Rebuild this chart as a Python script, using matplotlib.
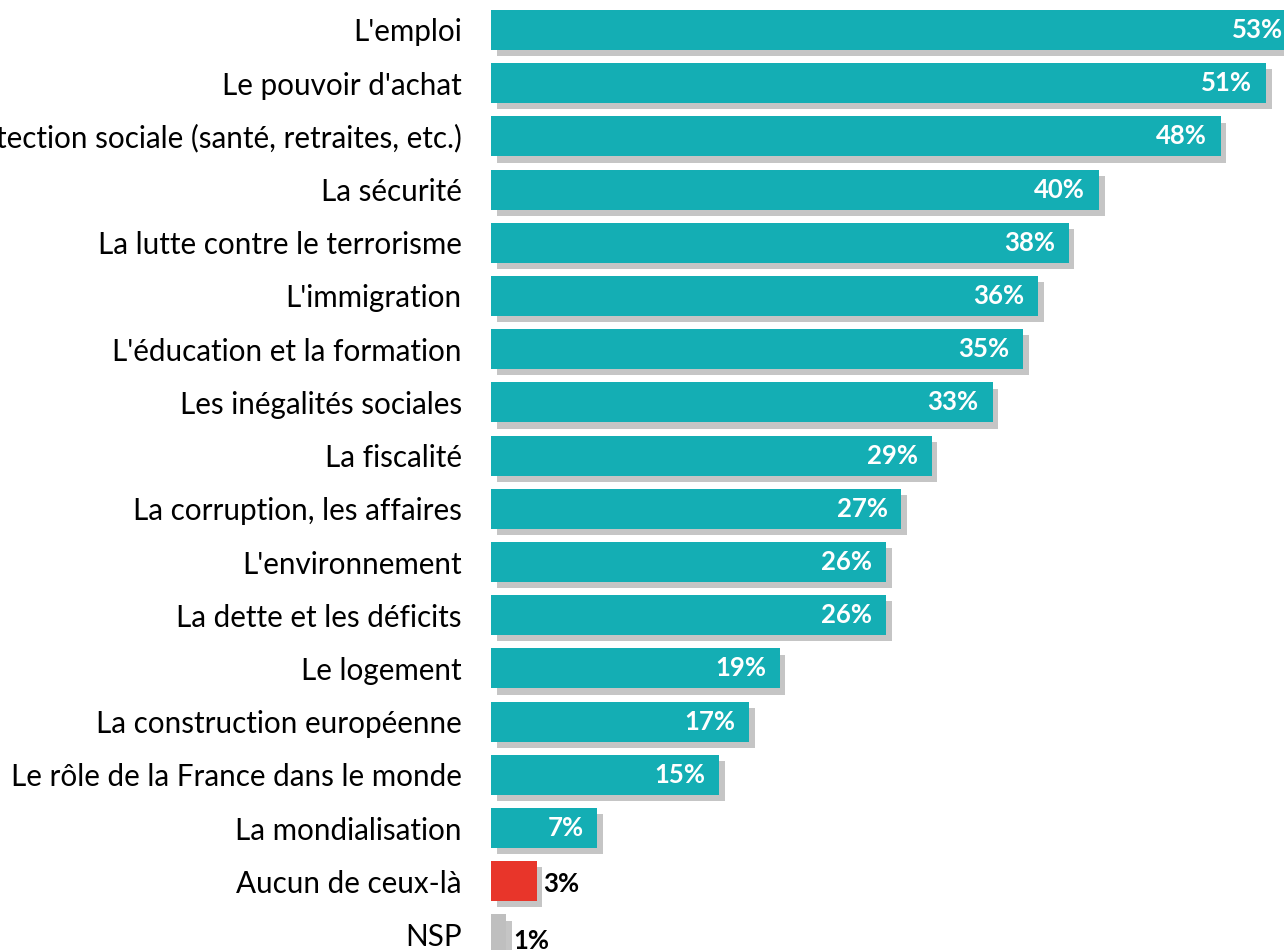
import matplotlib
matplotlib.use("Agg")
import matplotlib.pyplot as plt
import matplotlib.patheffects as pe

plt.rcParams["font.family"] = ["Lato", "DejaVu Sans"]

categories = [
    "L'emploi",
    "Le pouvoir d'achat",
    "La protection sociale (santé, retraites, etc.)",
    "La sécurité",
    "La lutte contre le terrorisme",
    "L'immigration",
    "L'éducation et la formation",
    "Les inégalités sociales",
    "La fiscalité",
    "La corruption, les affaires",
    "L'environnement",
    "La dette et les déficits",
    "Le logement",
    "La construction européenne",
    "Le rôle de la France dans le monde",
    "La mondialisation",
    "Aucun de ceux-là",
    "NSP",
]
values = [53, 51, 48, 40, 38, 36, 35, 33, 29, 27, 26, 26, 19, 17, 15, 7, 3, 1]

TEAL = "#14AEB4"
RED = "#E8352A"
GREY = "#BFBFBF"
colors = [TEAL] * 16 + [RED, GREY]

W, H = 1284, 950
PX_PER_PCT = 15.2
LEFT_PX = 491
ROW0_PX = 30
PITCH_PX = 53.2

fig = plt.figure(figsize=(W / 100, H / 100), dpi=100)
ax = fig.add_axes([LEFT_PX / W, 0, 1 - LEFT_PX / W, 1])
ax.set_xlim(0, (W - LEFT_PX) / PX_PER_PCT)
ax.set_ylim((H - ROW0_PX) / PITCH_PX, -ROW0_PX / PITCH_PX)

ypos = list(range(len(categories)))
shadow = [pe.SimplePatchShadow(offset=(4, -4.5), shadow_rgbFace="#8c8c8c", alpha=0.5),
          pe.Normal()]
bars = ax.barh(ypos, values, height=40 / PITCH_PX, color=colors, clip_on=False)
for b in bars:
    b.set_path_effects(shadow)

for i, (v, c) in enumerate(zip(values, colors)):
    if c == TEAL:
        ax.annotate(f"{v}%", xy=(v, i), xytext=(-10, 0), textcoords="offset points",
                    ha="right", va="center", color="white", fontsize=18.5,
                    fontweight="bold", annotation_clip=False)
    else:
        ax.annotate(f"{v}%", xy=(v, i + (0.05 if v == 3 else 0.12)), xytext=(5, 0),
                    textcoords="offset points", ha="left", va="center",
                    color="black", fontsize=18.5, fontweight="bold",
                    annotation_clip=False)

# labels run off the left edge, as in the original export
ax.set_yticks(ypos)
ax.set_yticklabels(categories, fontsize=21.3)
ax.tick_params(axis="y", length=0, pad=21)
ax.set_xticks([])
for s in ax.spines.values():
    s.set_visible(False)

fig.savefig("out.png", dpi=100)
